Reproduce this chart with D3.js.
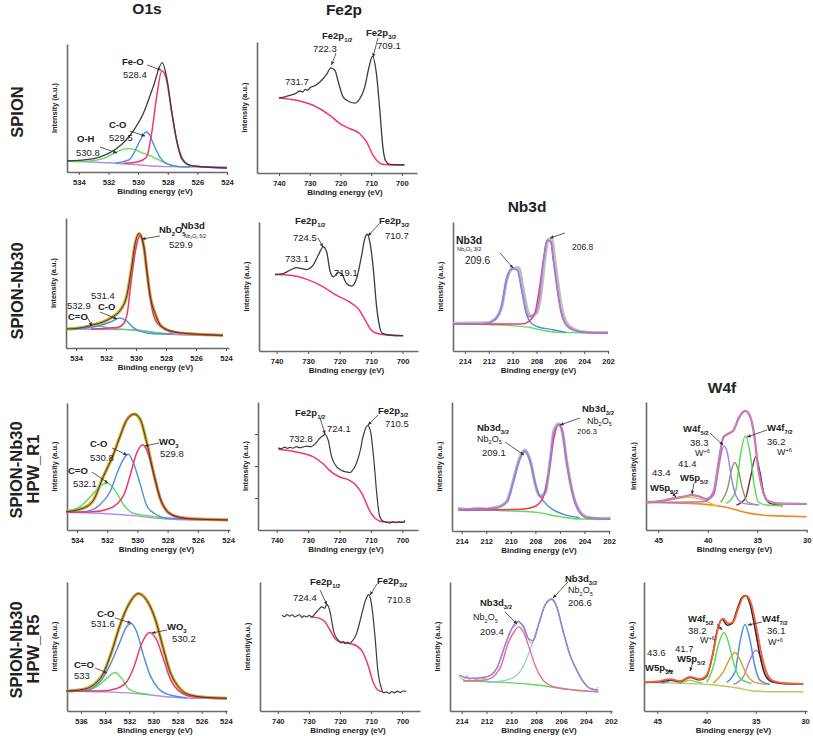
<!DOCTYPE html>
<html><head><meta charset="utf-8">
<script src="https://cdn.jsdelivr.net/npm/d3@7"></script>
<style>body{margin:0;background:#fff}svg{display:block}text{font-family:"Liberation Sans",Arial,sans-serif;fill:#222}</style>
</head><body><svg id="c" width="813" height="736"></svg>
<script>
// ---------- tick labels ----------
const o1Ticks = [534,532,530,528,526,524];
const o1Ticks4 = [536,534,532,530,528,526,524];
const feTicks = [740,730,720,710,700];
const nbTicks = [214,212,210,208,206,204,202];
const wTicks = [45,40,35,30];

// ---------- row 1 : SPION ----------
const base11 = [[534.8,8.6],[531,6.5],[528.05,4.2],[526,3.9],[524,3.9]];
const green11 = [[534.8,8.6],[534.1,8.1],[532.6,9.7],[531.9,13],[531.3,16.5],[530.67,18.3],[530.2,17.5],[529.88,15.7],[528.98,11.7],[528.08,6.5],[527.3,4.4],[526.5,4]];
const blue11 = [[531.5,7.0],[530.9,8.5],[530.58,9.7],[530.3,14.4],[529.9,24],[529.45,31.3],[529.2,28.5],[528.98,22.2],[528.53,11.7],[528.08,6.5],[527.4,4.4],[526.5,4]];
const red11 = [[531,6.8],[530,8],[529.43,11.7],[529.09,30],[528.75,58.7],[528.4,79.1],[528.08,71.8],[527.74,47],[527.4,24.8],[527.06,11.7],[526.5,5.2],[525.5,3.9],[524,3.1]];
const env11 = [[534.8,8.6],[533.5,9.6],[532.6,11.7],[531.45,18.3],[530.3,32.6],[529.65,45.7],[528.98,66.6],[528.37,85.4],[528.08,74.4],[527.74,48.3],[527.4,24.8],[527.06,10.4],[526.5,5.2],[525.5,3.9],[524,3.1]];
const fe11 = [[740,57.3],[738,58.2],[736.4,59.3],[734.5,60.8],[733.2,62.6],[732.3,61.8],[731.5,63.8],[730.6,63.2],[729.9,65.1],[728.2,66.8],[726.7,69.5],[724.5,75.3],[723.1,80.2],[721.8,78.4],[720.7,69.5],[719.1,58],[716.9,54.2],[715.3,53.4],[713.7,56.7],[712.1,65.6],[710.7,80.9],[709.6,89.1],[708.3,75.8],[707.2,47.8],[706.2,19.8],[705.3,9.2],[704,6.6],[699.2,6.4]];
const feBg11 = [[740,57.3],[734.3,55.5],[728.9,51.7],[723.4,44],[720.2,37.7],[716.9,33.8],[713.7,30],[711.5,23.7],[709.4,13.5],[707.2,7.6],[705.8,6.4],[699.2,5.9]];

// ---------- row 2 : SPION-Nb30 ----------
const base21 = [[534.67,14.6],[530.2,14.1],[528,10.8],[525.7,9.7],[524.2,9.7]];
const env21 = [[534.67,14.6],[533.5,15.9],[532.8,18],[532.2,20],[531.5,24.4],[531.07,28.7],[530.6,41],[530.3,61.5],[530.07,79.5],[529.8,88],[529.5,79.5],[529.3,61.5],[529.07,41],[528.7,25.6],[528.3,16.7],[527.5,12.3],[526.2,10.8],[524.2,9.7]];
const red21 = [[533,14.6],[531.5,15.6],[531.2,15.9],[530.8,19.2],[530.6,25.6],[530.3,53.8],[530.0,77],[529.75,85.9],[529.47,77],[529.2,51.3],[528.9,28.2],[528.5,18],[527.5,12.8],[525.9,10.3],[524.2,9.7]];
const blue21 = [[534.2,14.6],[533.4,15.4],[532.6,16.7],[531.7,20],[531.1,23],[530.6,20.5],[530.2,15.9],[529.7,12.8],[528.8,11],[527.5,10.8]];
const green21 = [[534.67,14.6],[533.5,15.5],[532.8,17.2],[531.7,15.4],[530.6,14.1],[529.1,12.3],[528,11]];
const fe21 = [[740.5,59.3],[737.9,60],[735.8,62.6],[733.7,64.7],[732.1,63.9],[730.5,63.1],[728.4,66.5],[726.8,74.2],[725.2,80.7],[724.1,76.8],[723.1,62.6],[722,57.5],[720.4,60.8],[719.4,60],[717.8,52.3],[716.2,50.3],[714.6,56.2],[713,74.2],[712,87.1],[711.2,90.5],[710.4,84.5],[709.3,63.9],[708.3,35.6],[707.4,20.1],[706.4,13.7],[704,12.4],[699.8,11.9]];
const feBg21 = [[740.5,59.3],[735.8,58.8],[730.5,55.7],[725.2,49.7],[721.1,43.3],[716.9,38.1],[713.7,31.7],[711.6,22.7],[710,16.2],[708.3,13.7],[705.2,12.4],[699.8,11.9]];
const nbRaw23 = [[214.98,21.5],[212.2,21.8],[211.5,24.5],[210.9,35],[210.5,55],[210,64],[209.5,64.5],[209.15,50],[208.8,33],[208.5,27],[208,29.5],[207.6,46],[207.3,72],[207,86.5],[206.7,86],[206.5,73],[206.2,52],[205.9,34],[205.5,22],[204.8,16.5],[203.8,14.5],[202,14.2]];
const nbEnv23 = [[214.98,20.9],[212.2,21.4],[211.5,24],[210.9,35.6],[210.5,56.2],[210,63.9],[209.6,62.6],[209.25,48.5],[208.9,31.7],[208.6,26.5],[208.1,29.1],[207.7,45.9],[207.4,71.6],[207.1,85.8],[206.8,84.5],[206.6,71.6],[206.3,51],[206,33],[205.6,21.4],[204.9,16.2],[203.8,14.4],[202,14.2]];
const nbA23 = [[214.98,20.9],[212.2,21.4],[211.5,24],[210.9,35.6],[210.5,56.2],[210,63.9],[209.6,62.6],[209.25,47],[208.9,30.4],[208.5,22.2],[207.9,18.8],[206.6,16.5],[205.5,14.4]];
const nbB23 = [[214.98,21],[209.2,21],[208.6,23.2],[208.1,30.4],[207.75,48.5],[207.4,71.6],[207.1,85.8],[206.8,84.5],[206.6,71.6],[206.3,51],[206,33],[205.6,21.4],[204.9,16.2],[203.8,14.4],[202,14.2]];
const nbBg23 = [[214.98,21.1],[210.8,20.1],[208.6,18.3],[207.2,15.5],[206,14.4],[203.8,14.2],[202,14.2]];

// ---------- row 3 : SPION-Nb30 HPW_R1 ----------
const base31 = [[534.7,13.9],[532.5,13.2],[530.3,11.3],[528.1,8.7],[525.9,7.9],[524,7.9]];
const env31 = [[534.7,14.5],[533.6,17.1],[532.9,23.7],[532.3,40.8],[531.6,59.2],[531.15,73.7],[530.7,86.8],[530.2,91.3],[529.8,86.8],[529.4,69.7],[528.9,43.4],[528.5,25],[528.1,15.8],[527.4,10.5],[526.3,8.7],[524,7.9]];
const red31 = [[534.7,13.9],[533.1,14.2],[531.8,17.1],[530.9,27.6],[530.5,42.1],[530.05,60.5],[529.65,67.1],[529.3,60.5],[528.8,38.2],[528.4,22.4],[527.9,13.2],[526.6,8.7],[524,7.9]];
const blue31 = [[534.7,13.9],[533.4,14.7],[532.5,19.7],[531.8,30.3],[531.3,46],[530.95,55.3],[530.6,59.7],[530.3,53.9],[529.8,35.5],[529.4,19.7],[528.9,13.2],[528.1,9.5],[526.8,8.7]];
const green31 = [[534.7,14.5],[533.8,18.4],[533.1,26.3],[532.5,34.2],[532.0,36.8],[531.5,31.6],[530.9,19.7],[530.3,13.2],[529.4,11.3],[528.1,9.2]];
const fe31 = [[739.5,64.2],[738.5,63.5],[737.5,64.8],[736.5,63.8],[735.8,64.6],[734.8,63.9],[733.8,65.2],[732.6,64.3],[731.5,64.9],[730.4,65.6],[729.3,65],[728.3,66.2],[727.3,68.5],[726.4,71.4],[725.4,73.5],[724.6,74.5],[723.6,70.1],[722.5,57.1],[720.9,49.4],[719.8,47.3],[718.8,46],[717.7,45.3],[716.7,44.9],[715.9,46.5],[715.1,49.4],[713.5,61],[712.4,74],[711,81.8],[710.1,76.6],[709,53.2],[708.2,29.9],[707.3,11.7],[706.2,7],[705,6.2],[704,5.4],[703,6.3],[702,5.8],[701,6.4],[700,5.9],[699.1,7.5]];
const feBg31 = [[739.5,63.1],[733.8,61],[728.3,57.1],[725.3,51.9],[723.3,46.8],[720.1,41.6],[716.9,39],[714.8,35.1],[712.6,27.3],[710.5,15.6],[708.4,8.6],[706.3,6.5],[699.1,6]];
const nbRaw33 = [[214.3,17.5],[213.5,16.5],[212.8,17.6],[212,17],[211.4,18],[210.8,19.5],[210.3,23.5],[209.8,39],[209.3,56],[208.85,63],[208.4,54],[208,36],[207.6,27],[207.2,30],[206.8,54],[206.5,77.5],[206.1,83],[205.8,77],[205.45,54],[205,31],[204.5,17],[203.8,10.8],[203,9.6],[201.9,10]];
const nbEnv33 = [[214.3,16.8],[211.4,17.5],[210.3,22.7],[209.8,38.1],[209.3,54.9],[208.85,61.9],[208.4,53.6],[208,35.6],[207.6,26.5],[207.2,29.1],[206.8,53.6],[206.5,76.8],[206.1,82.5],[205.8,76.8],[205.45,53.6],[205,30.4],[204.5,16.2],[203.8,10.3],[201.9,9.3]];
const nbA33 = [[214.3,16.8],[211.4,17.5],[210.3,22.7],[209.8,38.1],[209.3,54.9],[208.85,61.4],[208.3,49.7],[207.9,33],[207.3,22.7],[206.5,16.2],[205.7,12.9],[204.4,10.3]];
const nbB33 = [[214.3,16.2],[209.2,16.8],[208.1,18.8],[207.4,25.3],[206.9,45.9],[206.5,71.6],[206.1,82.5],[205.8,76.8],[205.45,53.6],[205,30.4],[204.5,16.2],[203.8,10.3],[201.9,9.3]];
const nbBg33 = [[214.3,16.8],[210.6,15.7],[207.9,14.4],[206,11.1],[204.4,9.3],[201.9,9]];
const wEnv34 = [[46.2,21.6],[44.8,22.6],[43.5,24.7],[42.5,26],[41.6,27.3],[40.8,26],[40.1,24.2],[39.4,29.9],[38.9,53.2],[38.4,72.7],[37.9,75.3],[37.4,77.9],[36.9,87],[36.2,93],[35.7,88.3],[35.3,74],[34.9,48.1],[34.4,29.9],[33.9,22.6],[33,20.8],[30,20.3]];
const w52_34 = [[46.2,21.6],[40.5,22.1],[39.4,27.3],[38.9,48.1],[38.6,61],[38.35,65.7],[38.0,59.7],[37.6,40.3],[37.1,26],[36.4,20.8],[34.8,19.5]];
const wMid34 = [[38.7,21.6],[38.0,32.5],[37.6,46.8],[37.3,52.7],[36.9,46.8],[36.5,32.5],[36.0,22.1],[35.0,19.5]];
const w72_34 = [[38.1,20.8],[37.2,29.9],[36.7,58.4],[36.2,73.5],[35.7,58.9],[35.3,35.1],[34.9,22.1],[34.1,19.5],[32.4,19]];
const wLow34 = [[37.1,19.5],[36.2,24.7],[35.7,40.3],[35.15,57.1],[34.7,44.2],[34.3,27.3],[33.7,20.8],[32.4,19]];
const w5p34 = [[46.2,21.6],[44.5,22.6],[43.2,24.2],[41.9,25.5],[40.9,24.4],[39.9,21.6],[38.9,17.9]];
const wBg34 = [[46.2,21.6],[41.8,20.8],[38.4,18.2],[35.7,13],[33.7,11.2],[30,10.4]];

// ---------- row 4 : SPION-Nb30 HPW_R5 ----------
const base41 = [[537.19,15.5],[534.42,14.9],[531.66,13.7],[528.9,11.1],[526.13,9.8],[523.92,9.8]];
const env41 = [[537.19,15.5],[535.81,16.8],[534.98,20.1],[534.15,29.1],[533.46,45.9],[532.77,66.5],[532.08,82],[531.25,91],[530.55,85.8],[529.86,71.6],[529.18,48.5],[528.62,30.4],[527.93,18.8],[526.96,12.4],[525.3,10.3],[523.92,9.8]];
const blue41 = [[537.19,15.5],[535.81,15.7],[534.42,22.7],[533.6,35.6],[532.77,53.6],[532.21,65.5],[531.85,67.8],[531.38,61.3],[530.83,43.3],[530.28,27.8],[529.59,17.5],[528.62,12.4],[527.24,10.3]];
const red41 = [[537.19,15.5],[534.42,15.5],[533.04,17.5],[532.21,22.7],[531.66,33],[530.97,52.3],[530.34,60.8],[529.72,54.9],[529.18,40.7],[528.62,25.3],[527.79,14.9],[526.69,11.1],[523.92,9.8]];
const green41 = [[537.19,15.5],[535.81,15.7],[534.7,18.8],[533.87,25.3],[533.18,29.9],[532.63,25.3],[532.08,17.5],[531.38,14.4],[530.28,12.9]];
const fe41 = [[738.7,74.2],[737.8,73.2],[737,74.8],[736.2,73.5],[735.3,74.6],[734.5,72.9],[733.9,73.7],[733,74.6],[732.2,72.5],[731.5,73.8],[730.7,72.9],[729.9,74.1],[729,73],[728,75.5],[726.9,78.4],[725.9,80.7],[724.9,79.6],[724.3,82.5],[723.7,81],[723.2,76.8],[722,61.3],[720.6,54.9],[719.7,52.8],[718.8,53.8],[718.4,52.3],[717.6,53.5],[717,52.3],[716.3,53.6],[715.5,56],[714.7,60],[713.1,74.2],[711.8,85.8],[710.8,90.2],[709.9,83.2],[708.8,58.8],[707.8,30.4],[706.7,17.5],[706,14.2],[705.1,14.9],[704.2,13.6],[703.3,15.1],[702.5,14],[701.6,15.4],[700.7,14.3],[699.8,15.5],[698.8,15.2]];
const feBg41 = [[729.6,72.9],[727,72.2],[724.8,69.1],[723.2,62.6],[721.1,54.9],[719,53.1],[715.8,51.8],[713.1,47.2],[711,35.6],[709.4,22.7],[707.8,16.2],[706.2,14.9]];
const nbRaw43 = [[214.19,27.8],[214,25],[213.8,24.5],[213.6,27.6],[213.4,24.6],[213.1,25.3],[212.8,24.4],[212.5,25.6],[212.2,25],[211.9,26.8],[211.5,28.5],[211.18,33],[210.8,42],[210.51,51],[210.2,58.5],[209.97,63.9],[209.7,66],[209.44,70],[209.2,68],[209.04,66.5],[208.8,61],[208.64,56.2],[208.4,52.6],[208.23,55],[208.0,61],[207.83,66.5],[207.5,76],[207.29,82],[207,86],[206.75,87.2],[206.5,85],[206.35,81],[206.1,72],[205.82,61.3],[205.5,51],[205.28,43.3],[205,37],[204.74,31.7],[204.4,25],[204.21,22.7],[203.9,19],[203.67,17.5],[203.3,16.4],[203.0,18.5]];
const nbEnv43 = [[214.19,27.8],[213.73,26],[213.33,25.3],[211.99,26.5],[211.18,33],[210.51,51],[209.97,63.9],[209.44,69.1],[209.04,65.2],[208.64,56.2],[208.23,54.6],[207.83,66.5],[207.29,82],[206.75,86.6],[206.35,80.7],[205.82,61.3],[205.28,43.3],[204.74,31.7],[204.21,22.7],[203.67,17.5],[203,16.2]];
const nbA43 = [[213.87,23.2],[211.99,24.2],[210.92,33],[210.25,52.8],[209.71,62.4],[209.44,65.2],[209.04,61.3],[208.5,47.2],[208.1,35.6],[207.56,25.3],[206.62,18.8],[205.01,16.2],[203,14.9]];
const nbB43 = [[211.99,22.2],[210.38,24],[209.31,30.4],[208.5,47.2],[207.83,66.5],[207.29,82],[206.75,86.6],[206.35,80.7],[205.82,61.3],[205.28,43.3],[204.74,31.7],[204.21,22.7],[203.67,17.5],[203,16.2]];
const nbBg43 = [[213.87,23.2],[210.65,22.2],[207.96,20.1],[205.28,16.8],[203,14.9]];
const wEnv44 = [[46.35,22.2],[44.73,23.2],[43.71,24.7],[42.7,23.2],[41.68,26.5],[40.67,24.7],[39.98,27.8],[39.31,45.9],[38.81,65.2],[38.3,71.6],[37.79,67.8],[37.28,69.1],[36.78,79.4],[36.27,88.4],[35.92,89.2],[35.42,82],[34.91,63.9],[34.4,43.3],[33.89,29.1],[33.22,23.2],[31.86,21.4],[30.18,21.1]];
const wEnvB44 = [[46.35,22.2],[44.73,22.7],[43.71,24],[42.7,22.9],[41.68,26],[40.67,24.2],[39.98,27],[39.4,43],[38.9,63],[38.4,71],[37.9,66.5],[37.4,68],[36.9,78.5],[36.4,88],[36.05,89.5],[35.55,82],[35.05,63],[34.55,42],[34.05,28],[33.3,22.5],[31.86,21.2],[30.18,21]];
const w52_44 = [[39.98,22.2],[39.31,34.3],[38.81,51],[38.23,60.8],[37.79,53.6],[37.28,38.1],[36.6,25.3],[35.42,21.4]];
const wMid44 = [[39.31,21.6],[38.3,30.4],[37.62,40.7],[37.11,45.4],[36.6,39.7],[35.92,28.2],[35.08,22.2],[33.89,20.6]];
const w72_44 = [[37.96,22.2],[37.11,30.4],[36.6,53.6],[36.1,67],[35.59,54.9],[35.08,34.3],[34.57,23.7],[33.56,20.6]];
const wLow44 = [[37.28,20.6],[36.27,26.5],[35.59,39.7],[34.98,47.2],[34.4,40.7],[33.73,27.3],[32.88,22.2],[31.53,20.6]];
const w5pA44 = [[44.6,21.6],[44,22.6],[43.6,23.8],[43.1,22.8],[42.5,21.4]];
const w5pB44 = [[43,21.8],[42.2,22.8],[41.7,24],[41.1,22.8],[40.4,21.5]];
const wBg44 = [[46.35,22.2],[42.5,21.4],[39.15,20.1],[37.0,18],[35.2,15.5],[33,14.9],[30.18,14.9]];

// ---------- layout & styles ----------
const C = {env:'#3c3c3c', red:'#f0386c', blue:'#4a8fe0', green:'#5cdc5c', purple:'#b48be8', gold:'#d9a62a',
  gray:'#bdbdbd', nbPurple:'#9d7fe6', pink:'#f0689a', teal:'#86cfd0', wPink:'#f0508a', wBlue:'#8aaecd',
  olive:'#8c9a52', maroon:'#6b2b3c', orange:'#f08a28', yellow:'#e6c44a', wRed:'#ff5a32', wGold:'#d8a12a', wPurple:'#a679ea'};
const IL = 'Intensity (a.u.)';
const panels = [
 {l:67,r:227,t:44,b:172,x:[534.8,524],ticks:o1Ticks,yl:IL, curves:[[base11,C.purple,1.4],[green11,C.green,1.4],[blue11,C.blue,1.4],[red11,C.red,1.5],[env11,C.env,1.3]]},
 {l:257,r:417,t:42,b:173,x:[747.15,695.1],ticks:feTicks,yl:IL, curves:[[feBg11,C.red,1.5],[fe11,C.env,1.3]]},
 {l:66,r:229,t:218,b:348,x:[534.67,523.8],ticks:o1Ticks,yl:IL, curves:[[base21,C.purple,1.4],[env21,C.gold,3.2],[green21,C.green,1.4],[blue21,C.blue,1.4],[red21,C.red,1.5],[env21,C.env,1]]},
 {l:259,r:418,t:222,b:351,x:[745.6,695.1],ticks:feTicks,yl:IL, curves:[[feBg21,C.red,1.5],[fe21,C.env,1.3]]},
 {l:453,r:608,t:222,b:351,x:[215,202],ticks:nbTicks,yl:IL, curves:[[nbRaw23,C.gray,3.2],[nbBg23,C.green,1.4],[nbA23,C.blue,1.4],[nbB23,C.red,1.5],[nbEnv23,C.nbPurple,1.4]]},
 {l:67,r:230,t:403,b:530,x:[534.66,523.87],ticks:o1Ticks,yl:IL, curves:[[base31,C.purple,1.4],[env31,C.gold,3.2],[green31,C.green,1.4],[blue31,C.blue,1.4],[red31,C.red,1.5],[env31,C.env,1]]},
 {l:258,r:418,t:402,b:530,x:[745.96,695],ticks:feTicks,yl:IL,yt:[25,50,75], curves:[[feBg31,C.red,1.5],[fe31,C.env,1.2]]},
 {l:452,r:610,t:402,b:531,x:[214.79,201.92],ticks:nbTicks,yl:IL, curves:[[nbRaw33,C.gray,3.2],[nbBg33,C.green,1.4],[nbA33,C.blue,1.4],[nbB33,C.red,1.5],[nbEnv33,C.nbPurple,1.4]]},
 {l:646,r:807,t:402,b:530,x:[46.24,29.97],ticks:wTicks,yl:'Intensity(a.u.)', curves:[[wBg34,C.orange,1.6],[w5p34,C.yellow,1.4],[wLow34,C.maroon,1.4],[w72_34,C.green,1.5],[wMid34,C.olive,1.4],[w52_34,C.wPurple,1.4],[wEnv34,C.wPink,2.2],[wEnv34,C.wBlue,1]]},
 {l:67,r:227,t:582,b:711,x:[537.16,523.9],ticks:o1Ticks4,yl:IL, curves:[[base41,C.purple,1.4],[env41,C.gold,3.2],[green41,C.green,1.4],[blue41,C.blue,1.4],[red41,C.red,1.5],[env41,C.env,1]]},
 {l:260,r:420,t:582,b:711,x:[745.7,694.3],ticks:feTicks,yl:'Intensity(a.u.)', curves:[[feBg41,C.red,1.5],[fe41,C.env,1.2]]},
 {l:450,r:612,t:582,b:711,x:[214.94,201.9],ticks:nbTicks,yl:IL, curves:[[nbBg43,C.green,1.4],[nbB43,C.teal,1.3],[nbA43,C.pink,1.4],[nbRaw43,'#9a9a9a',1],[nbEnv43,C.nbPurple,1.5]]},
 {l:644,r:807,t:582,b:711,x:[46.35,29.8],ticks:wTicks,yl:IL, curves:[[wBg44,'#c9c060',1.4],[w5pA44,C.blue,1.2],[w5pB44,C.green,1.2],[wLow44,C.wPurple,1.4],[w72_44,C.blue,1.5],[wMid44,C.wGold,1.4],[w52_44,C.green,1.5],[wEnvB44,'#2a2a2a',1.6],[wEnv44,C.wRed,1.8]]}
];

// annotations: [x, baseline y, text, bold, size]
const notes = [
 [122,64.5,'Fe-O',1,9.5],[123,77.5,'528.4',0,9.5],[109,127.5,'C-O',1,9.5],[109,140.5,'529.5',0,9.5],[77,141.5,'O-H',1,9.5],[76,155.5,'530.8',0,9.5],
 [322,38.5,'Fe2p_{1/2}',1,9.5],[313,51.5,'722.3',0,9.5],[366,36,'Fe2p_{3/2}',1,9.5],[377,48.5,'709.1',0,9.5],[285,85,'731.7',0,9.5],
 [159,232.5,'Nb_{2}O_{5}',1,9.5],[181,229,'Nb3d',1,9.5],[184,237.5,'Nb_{2}O_{5}  5/2',0,5],[169,248,'529.9',0,9.5],
 [91,298.5,'531.4',0,9.5],[98,309.5,'C-O',1,9.5],[67,308.5,'532.9',0,9.5],[68,319.5,'C=O',1,9.5],
 [295,223.5,'Fe2p_{1/2}',1,9.5],[293,240.5,'724.5',0,9.5],[285,261.5,'733.1',0,9.5],[334,275.5,'719.1',0,9.5],[379,223.5,'Fe2p_{3/2}',1,9.5],[385,238.5,'710.7',0,9.5],
 [456,243.5,'Nb3d',1,10.5],[457,250.5,'Nb_{2}O_{5}  3/2',0,5.5],[465,263.5,'209.6',0,10],[572,250,'206.8',0,8.5],
 [90,446.5,'C-O',1,9.5],[90,460.5,'530.8',0,9.5],[159,445,'WO_{3}',1,9.5],[160,456.5,'529.8',0,9.5],[68,473.5,'C=O',1,9.5],[73,486.5,'532.1',0,9.5],
 [295,415.5,'Fe2p_{1/2}',1,9.5],[289,441.5,'732.8',0,9.5],[327,431.5,'724.1',0,9.5],[378,413.5,'Fe2p_{3/2}',1,9.5],[385,426.5,'710.5',0,9.5],
 [477,430.5,'Nb3d_{3/2}',1,9.5],[477,441.5,'Nb_{2}O_{5}',0,9],[482,455.5,'209.1',0,9.5],[582,411.5,'Nb3d_{3/2}',1,9.5],[587,423.5,'Nb_{2}O_{5}',0,9],[577,433.5,'206.3',0,8],
 [683,431.5,'W4f_{5/2}',1,9.5],[690,445.5,'38.3',0,9.5],[695,456,'W^{+6}',0,9],[767,430.5,'W4f_{7/2}',1,9.5],[767,444.5,'36.2',0,9.5],[777,455,'W^{+6}',0,9],
 [652,475.5,'43.4',0,9.5],[678,466.5,'41.4',0,9.5],[680,480.5,'W5p_{5/2}',1,9.5],[650,490.5,'W5p_{3/2}',1,9.5],
 [97,616.5,'C-O',1,9.5],[91,626.5,'531.6',0,9.5],[167,629.5,'WO_{3}',1,9.5],[172,642,'530.2',0,9.5],[74,667.5,'C=O',1,9.5],[74,678.5,'533',0,9.5],
 [310,584.5,'Fe2p_{1/2}',1,9.5],[293,600.5,'724.4',0,9.5],[377,583.5,'Fe2p_{3/2}',1,9.5],[387,602.5,'710.8',0,9.5],
 [480,605.5,'Nb3d_{3/2}',1,9.5],[473,620,'Nb_{2}O_{5}',0,9],[480,634.5,'209.4',0,9.5],[565,581.5,'Nb3d_{3/2}',1,9.5],[568,593,'Nb_{2}O_{5}',0,9],[568,605.5,'206.6',0,9.5],
 [647,655.5,'43.6',0,9.5],[675,651.5,'41.7',0,9.5],[677,661.5,'W5p_{5/2}',1,9.5],[645,671,'W5p_{3/2}',1,9.5],
 [688,621.5,'W4f_{5/2}',1,9.5],[688,633.5,'38.2',0,9.5],[700,643,'W^{+6}',0,9],[762,621.5,'W4f_{7/2}',1,9.5],[767,633.5,'36.1',0,9.5],[768,645,'W^{+6}',0,9]
];
const arrows = [
 [147,65,161,70],[130,131,145,136],[100,147,117,153],
 [336,53,331.5,65],[378,38,373,57],
 [160,236,142,239],[100,312,117,319],[87,317,92,326],
 [318,238,323,247],[379,224,368,236],
 [500,253,513,268],[565,233,550,238],
 [112,448,127,455],[159,443,145,446],[92,472,108,483],
 [320,418,325,434],[378,415,368,425],
 [505,442,524,455],[580,418,560,425],
 [710,433,723,445],[767,430,747,437],[668,489,676,497],[694,483,692,494],
 [115,618,131,623],[167,630,152,633],[95,668,107,673],
 [320,590,327,605],[377,584,370,595],
 [505,612,517,624],[568,582,553,598],
 [762,622,748,625],[717,624,722,630],[665,669,672,672],[693,662,690,671]
];
const colTitles = [[147,14,'O1s'],[344,15,'Fe2p'],[527,212,'Nb3d'],[722,393,'W4f']];
const rowTitles = [[23,112,'SPION'],[23,291,'SPION-Nb30'],[22,470,'SPION-Nb30'],[39,469,'HPW_R1'],[22,650,'SPION-Nb30'],[39,649,'HPW_R5']];

// ---------- drawing ----------
const svg = d3.select('#c');
svg.append('defs').append('marker').attr('id','ah').attr('viewBox','0 0 10 10').attr('refX',9).attr('refY',5)
  .attr('markerWidth',5).attr('markerHeight',5).attr('orient','auto')
  .append('path').attr('d','M0,1 L10,5 L0,9 z').attr('fill','#333');

function rich(sel, str, fs){
  const parts = str.split(/(_\{[^}]*\}|\^\{[^}]*\})/).filter(s=>s.length);
  let off = 0;
  parts.forEach(p=>{
    let target = 0, txt = p, size = fs;
    if(p.startsWith('_{')){ target = fs*0.32; txt = p.slice(2,-1); size = fs*0.62; }
    else if(p.startsWith('^{')){ target = -fs*0.38; txt = p.slice(2,-1); size = fs*0.62; }
    sel.append('tspan').attr('dy', target - off).attr('font-size', size).text(txt);
    off = target;
  });
}

panels.forEach(p=>{
  const x = d3.scaleLinear().domain(p.x).range([p.l,p.r]);
  const y = d3.scaleLinear().domain([0,100]).range([p.b,p.t]);
  const g = svg.append('g');
  const xa = g.append('g').attr('transform',`translate(0,${p.b})`)
    .call(d3.axisBottom(x).tickValues(p.ticks).tickSize(3).tickSizeOuter(0).tickPadding(5).tickFormat(d3.format('d')));
  const ya = g.append('g').attr('transform',`translate(${p.l},0)`)
    .call(d3.axisLeft(y).tickValues(p.yt||[]).tickSize(3).tickSizeOuter(0).tickFormat(''));
  [xa,ya].forEach(a=>{
    a.select('.domain').attr('stroke','#6a6a6a').attr('stroke-width',1.6);
    a.selectAll('.tick line').attr('stroke','#555').attr('stroke-width',1);
    a.selectAll('.tick text').attr('font-size',7.6).attr('fill','#222').attr('font-family','"Liberation Sans",Arial,sans-serif').attr('font-weight',600);
  });
  const line = d3.line().x(d=>x(d[0])).y(d=>y(d[1])).curve(d3.curveMonotoneX);
  p.curves.forEach(c=>{
    g.append('path').attr('d',line(c[0])).attr('fill','none').attr('stroke',c[1]).attr('stroke-width',c[2]).attr('stroke-linejoin','round');
  });
  g.append('text').attr('x',(p.l+p.r)/2+8).attr('y',p.b+22).attr('text-anchor','middle')
    .attr('font-size',8).attr('font-weight',700).attr('fill','#222').text('Binding energy (eV)');
  g.append('text').attr('transform',`translate(${p.l-10},${(p.t+p.b)/2}) rotate(-90)`).attr('text-anchor','middle')
    .attr('font-size',7.4).attr('font-weight',700).attr('fill','#222').text(p.yl);
});

arrows.forEach(a=>{
  svg.append('line').attr('x1',a[0]).attr('y1',a[1]).attr('x2',a[2]).attr('y2',a[3])
    .attr('stroke','#333').attr('stroke-width',0.8).attr('marker-end','url(#ah)');
});
notes.forEach(n=>{
  const t = svg.append('text').attr('x',n[0]).attr('y',n[1]).attr('font-size',n[4]).attr('font-weight',n[3]?700:400).attr('fill','#222');
  rich(t,n[2],n[4]);
});
colTitles.forEach(c=>{
  svg.append('text').attr('x',c[0]).attr('y',c[1]).attr('text-anchor','middle').attr('font-size',15.5).attr('font-weight',700).attr('fill','#111').text(c[2]);
});
rowTitles.forEach(r=>{
  svg.append('text').attr('transform',`translate(${r[0]},${r[1]}) rotate(-90)`).attr('text-anchor','middle')
    .attr('font-size',16.5).attr('font-weight',700).attr('fill','#111').text(r[2]);
});
</script></body></html>
